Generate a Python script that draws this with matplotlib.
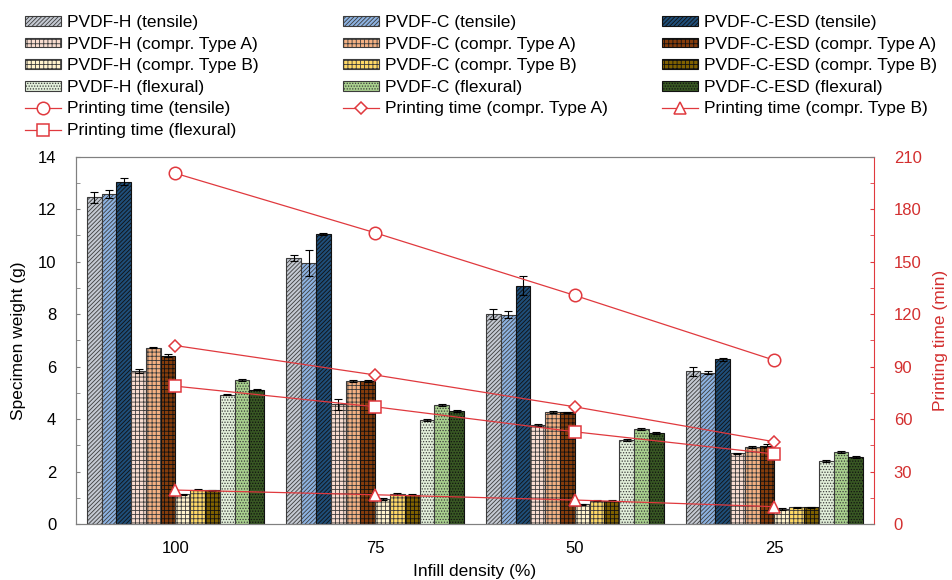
import numpy as np
import matplotlib
matplotlib.use("Agg")
import matplotlib.pyplot as plt
from matplotlib.ticker import MultipleLocator

plt.rcParams['font.family'] = ['Liberation Sans', 'DejaVu Sans']
plt.rcParams['hatch.linewidth'] = 0.6

# infill density groups
infill = ['100', '75', '50', '25']

# specimen weight (g) per series, one value per infill group
h_tens = [12.45, 10.14, 8.01, 5.82]
c_tens = [12.58, 9.95, 7.98, 5.77]
esd_tens = [13.05, 11.06, 9.09, 6.28]
h_cA = [5.83, 4.56, 3.77, 2.69]
c_cA = [6.72, 5.45, 4.27, 2.94]
esd_cA = [6.42, 5.45, 4.25, 2.99]
h_cB = [1.13, 0.95, 0.75, 0.57]
c_cB = [1.31, 1.14, 0.89, 0.63]
esd_cB = [1.29, 1.12, 0.88, 0.63]
h_flex = [4.93, 3.96, 3.20, 2.40]
c_flex = [5.48, 4.55, 3.63, 2.74]
esd_flex = [5.12, 4.30, 3.46, 2.56]

# standard deviations
h_tens_err = [0.20, 0.12, 0.18, 0.18]
c_tens_err = [0.15, 0.48, 0.12, 0.06]
esd_tens_err = [0.12, 0.03, 0.35, 0.05]
h_cA_err = [0.08, 0.20, 0.05, 0.03]
c_cA_err = [0.03, 0.04, 0.03, 0.04]
esd_cA_err = [0.05, 0.04, 0.03, 0.04]
h_cB_err = [0.03, 0.03, 0.03, 0.02]
c_cB_err = [0.02, 0.03, 0.02, 0.02]
esd_cB_err = [0.02, 0.03, 0.02, 0.02]
h_flex_err = [0.03, 0.03, 0.03, 0.03]
c_flex_err = [0.04, 0.04, 0.03, 0.03]
esd_flex_err = [0.03, 0.03, 0.03, 0.03]

# printing time (min)
pt_tens = [200.5, 166.5, 130.7, 93.6]
pt_cA = [102.0, 85.2, 67.0, 47.0]
pt_cB = [19.4, 16.7, 13.7, 9.9]
pt_flex = [78.8, 67.0, 52.7, 40.0]

series = [
    ('PVDF-H (tensile)', h_tens, h_tens_err, '#c5cad3', '////////', '#3c3c3c'),
    ('PVDF-C (tensile)', c_tens, c_tens_err, '#8db3e2', '////////', '#3c3c3c'),
    ('PVDF-C-ESD (tensile)', esd_tens, esd_tens_err, '#1f4e79', '////////', '#111111'),
    ('PVDF-H (compr. Type A)', h_cA, h_cA_err, '#f8dccf', '++++', '#3c3c3c'),
    ('PVDF-C (compr. Type A)', c_cA, c_cA_err, '#f4b183', '++++', '#3c3c3c'),
    ('PVDF-C-ESD (compr. Type A)', esd_cA, esd_cA_err, '#843c0c', '++++', '#111111'),
    ('PVDF-H (compr. Type B)', h_cB, h_cB_err, '#fff2cc', '++++', '#3c3c3c'),
    ('PVDF-C (compr. Type B)', c_cB, c_cB_err, '#ffd966', '++++', '#3c3c3c'),
    ('PVDF-C-ESD (compr. Type B)', esd_cB, esd_cB_err, '#7f6000', '++++', '#111111'),
    ('PVDF-H (flexural)', h_flex, h_flex_err, '#e2efda', '......', '#3c3c3c'),
    ('PVDF-C (flexural)', c_flex, c_flex_err, '#a9d18e', '......', '#3c3c3c'),
    ('PVDF-C-ESD (flexural)', esd_flex, esd_flex_err, '#385723', '......', '#111111'),
]

red = '#e0393e'
red_txt = '#d32f2f'

fig = plt.figure(figsize=(9.53, 5.8), dpi=100)
ax = fig.add_axes([0.0794, 0.0966, 0.838, 0.6332])
ax2 = ax.twinx()

x = np.arange(len(infill))
w = 0.0741
bars = []
for i, (lab, vals, err, fc, hatch, ec) in enumerate(series):
    b = ax.bar(x + (i - 5.5) * w, vals, w, yerr=err, color=fc, hatch=hatch,
               edgecolor=ec, linewidth=0.8, label=lab,
               error_kw=dict(ecolor='black', elinewidth=0.8, capsize=3, capthick=0.8))
    bars.append(b)

mk = dict(color=red, lw=0.9, markerfacecolor='white', markeredgecolor=red, markeredgewidth=1.1)
l_tens, = ax2.plot(x, pt_tens, marker='o', ms=9, label='Printing time (tensile)', **mk)
l_cA, = ax2.plot(x, pt_cA, marker='D', ms=6.5, label='Printing time (compr. Type A)', **mk)
l_cB, = ax2.plot(x, pt_cB, marker='^', ms=9, label='Printing time (compr. Type B)', **mk)
l_flex, = ax2.plot(x, pt_flex, marker='s', ms=8.5, label='Printing time (flexural)', **mk)

ax.set_xlim(-0.5, 3.5)
ax.set_ylim(0, 14)
ax2.set_ylim(0, 210)
ax.set_xticks(x)
ax.set_xticklabels(infill)
ax.tick_params(axis='x', length=0, pad=12, labelsize=12)
ax.yaxis.set_major_locator(MultipleLocator(2))
ax.yaxis.set_minor_locator(MultipleLocator(1))
ax.tick_params(axis='y', which='both', direction='in', length=3, color='#808080', labelsize=12, pad=14)
ax2.yaxis.set_major_locator(MultipleLocator(30))
ax2.yaxis.set_minor_locator(MultipleLocator(15))
ax2.tick_params(axis='y', which='both', direction='in', length=3, color=red, labelcolor=red_txt,
                labelsize=12, pad=14)

for s in ['left', 'top', 'bottom']:
    ax.spines[s].set_color('#808080')
    ax2.spines[s].set_color('#808080')
ax2.spines['right'].set_color(red)
ax.spines['right'].set_visible(False)

ax.set_xlabel('Infill density (%)', fontsize=12.5, labelpad=6)
ax.set_ylabel('Specimen weight (g)', fontsize=12.5, labelpad=8)
ax2.set_ylabel('Printing time (min)', fontsize=12.5, color=red_txt, labelpad=8)

cols = [
    ([bars[0], bars[3], bars[6], bars[9], l_tens, l_flex], 25 / 953),
    ([bars[1], bars[4], bars[7], bars[10], l_cA], 343 / 953),
    ([bars[2], bars[5], bars[8], bars[11], l_cB], 662 / 953),
]
for handles, xa in cols:
    fig.legend(handles=handles, labels=[h.get_label() for h in handles],
               loc='upper left', bbox_to_anchor=(xa, 0.974), frameon=False,
               fontsize=12.5, handlelength=2.1, handleheight=0.5, handletextpad=0.3,
               labelspacing=0.38, borderpad=0, borderaxespad=0)

fig.savefig('out.png', dpi=100)
